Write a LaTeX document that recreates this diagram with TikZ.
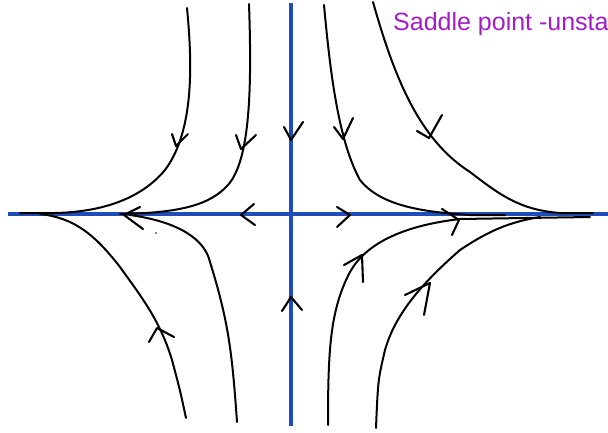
\documentclass[tikz,border=0pt]{standalone}
\usepackage{fontspec}
\setsansfont{Liberation Sans}
\usepackage[dvipsnames]{xcolor}
\definecolor{axisblue}{HTML}{1F4DB8}
\definecolor{notepurple}{HTML}{A31CC6}
\usepackage{tikz}
\tikzset{
  axisline/.style={draw=axisblue,line width=3.4pt},
  trajectory/.style={draw=black,line width=2pt,line cap=round,line join=round},
  flowtip/.style={trajectory,line width=2.1pt},
  heading/.style={font=\sffamily\fontsize{25}{27}\selectfont,text=notepurple,inner sep=0pt},
}

\begin{document}
\begin{tikzpicture}[x=1pt,y=-1pt]
  \useasboundingbox (0,0) rectangle (608,433);
  \coordinate (west) at (8,214);
  \coordinate (east) at (608,214);
  \coordinate (north) at (291,3);
  \coordinate (south) at (291,426);
  \draw[axisline] (west) -- (east);
  \draw[axisline] (north) -- (south);
  \node[heading, anchor=base west] (title) at (393,31) {Saddle point -unsta};
  % incoming from above
  \draw[trajectory] (187,8) .. controls (192,60) and (195,130) .. (165,170) .. controls (140,200) and (100,212) .. (55,213) -- (20,213);
  \draw[trajectory] (249,4) .. controls (252,90) and (250,160) .. (228,185) .. controls (210,205) and (180,213) .. (120,214);
  \draw[trajectory] (324,5) .. controls (330,70) and (338,140) .. (360,180) .. controls (380,205) and (420,212) .. (470,215) -- (505,215);
  \draw[trajectory] (373,2) .. controls (395,80) and (420,140) .. (470,172) .. controls (500,195) and (520,210) .. (560,213) -- (593,213);
  % incoming from below
  \draw[trajectory] (40,214) .. controls (75,218) and (95,235) .. (120,267) .. controls (140,295) and (160,320) .. (172,360) .. controls (180,390) .. (186,418);
  \draw[trajectory] (130,215) .. controls (180,222) and (205,240) .. (210,262) .. controls (228,320) and (232,350) .. (237,422);
  \draw[trajectory] (590,217) -- (460,219) .. controls (400,226) and (365,245) .. (350,272) .. controls (330,310) and (328,350) .. (328,425);
  \draw[trajectory] (540,217) .. controls (510,222) and (490,230) .. (460,250) .. controls (420,285) and (395,315) .. (385,350) .. controls (378,380) .. (376,428);
  \fill (156,233) circle (0.8pt);
  % direction marks
  \draw[flowtip] (172,134) -- (176,146) -- (188,134);
  \draw[flowtip] (236,135) -- (241,149) -- (256,135);
  \draw[flowtip] (284,127) -- (291,140) -- (303,122);
  \draw[flowtip] (334,127) -- (343,139) -- (353,118);
  \draw[flowtip] (417,131) -- (429,138) -- (442,115);
  \draw[flowtip] (140,207) -- (124,215) -- (143,229);
  \draw[flowtip] (254,204) -- (241,215) -- (255,225);
  \draw[flowtip] (337,207) -- (350,215) -- (337,227);
  \draw[flowtip] (442,209) -- (459,220) -- (452,235);
  \draw[flowtip] (149,342) -- (157,328) -- (174,337);
  \draw[flowtip] (282,311) -- (291,297) -- (302,310);
  \draw[flowtip] (344,265) -- (362,255) -- (363,282);
  \draw[flowtip] (405,295) -- (430,283) -- (424,315);
\end{tikzpicture}
\end{document}
